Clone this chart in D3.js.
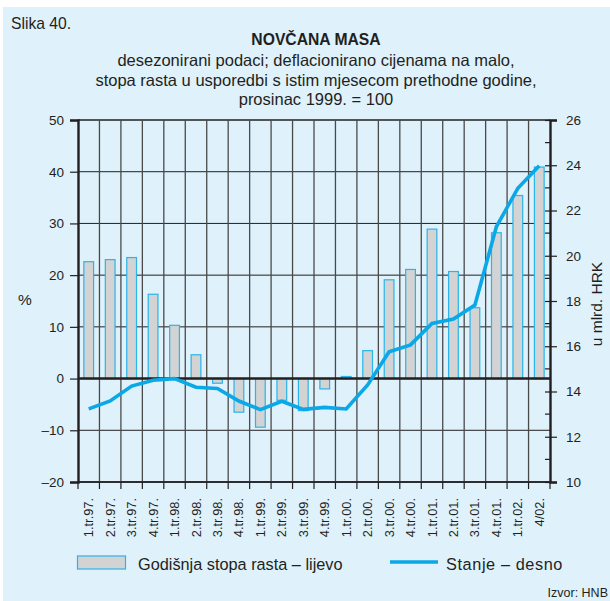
<!DOCTYPE html>
<html>
<head>
<meta charset="utf-8">
<script src="https://cdn.jsdelivr.net/npm/d3@7"></script>
<style>
  html, body { margin: 0; padding: 0; background: #ffffff; }
  svg { display: block; font-family: "Liberation Sans", Arial, Helvetica, sans-serif; }
</style>
</head>
<body>
<svg id="chart" width="610" height="601"></svg>
<script>
// Quarterly money supply: annual growth rate (left, %) and stock (right, bn HRK)
const quarters = [
  "1.tr.97.", "2.tr.97.", "3.tr.97.", "4.tr.97.",
  "1.tr.98.", "2.tr.98.", "3.tr.98.", "4.tr.98.",
  "1.tr.99.", "2.tr.99.", "3.tr.99.", "4.tr.99.",
  "1.tr.00.", "2.tr.00.", "3.tr.00.", "4.tr.00.",
  "1.tr.01.", "2.tr.01.", "3.tr.01.", "4.tr.01.",
  "1.tr.02.", "4/02."
];
const growthRate = [
  22.6, 23.0, 23.4, 16.3,
  10.3, 4.6, -0.9, -6.5,
  -9.4, -4.2, -6.2, -2.0,
  0.4, 5.4, 19.1, 21.1,
  28.9, 20.7, 13.7, 28.2,
  35.4, 40.9
];
const stock = [
  13.23, 13.58, 14.24, 14.50,
  14.57, 14.19, 14.13, 13.58,
  13.20, 13.57, 13.21, 13.30,
  13.23, 14.29, 15.76, 16.06,
  17.01, 17.20, 17.82, 21.28,
  22.98, 23.98
];
const leftTicks = [-20, -10, 0, 10, 20, 30, 40, 50];
const rightTicks = [10, 12, 14, 16, 18, 20, 22, 24, 26];
const rightMinorTicks = [11, 13, 15, 17, 19, 21, 23, 25];

const svg = d3.select("#chart");
const W = 610, H = 601;
const plot = { left: 78, right: 550, top: 120, bottom: 482 };

const BG = "#dff1fb";
const INK = "#231f20";
const BLUE = "#0aa8e6";
const BAR_FILL = "#d3d3d3";
const BAR_STROKE = "#2ab4ea";

// panel background
svg.append("rect").attr("x", 3).attr("y", 7).attr("width", W - 3).attr("height", H - 7).attr("fill", BG);

const x = d3.scaleBand().domain(quarters)
  .range([plot.left, plot.right]).paddingInner(0.5).paddingOuter(0.25);
const yL = d3.scaleLinear().domain([-20, 50]).range([plot.bottom, plot.top]);
const yR = d3.scaleLinear().domain([10, 26]).range([plot.bottom, plot.top]);

const step = x.step();
const center = q => x(q) + x.bandwidth() / 2;
const boundaries = quarters.map(q => center(q) - step / 2).concat([plot.right]);

// titles
svg.append("text").attr("x", 11).attr("y", 29).attr("font-size", 15.7).attr("fill", INK).text("Slika 40.");
const cx = 316;
svg.append("text").attr("x", cx).attr("y", 45).attr("text-anchor", "middle")
  .attr("font-size", 15.7).attr("font-weight", "bold").attr("fill", INK).text("NOVČANA MASA");
const subLines = [
  "desezonirani podaci; deflacionirano cijenama na malo,",
  "stopa rasta u usporedbi s istim mjesecom prethodne godine,",
  "prosinac 1999. = 100"
];
svg.append("g").selectAll("text").data(subLines).join("text")
  .attr("x", cx).attr("y", (d, i) => 66 + i * 19.7).attr("text-anchor", "middle")
  .attr("font-size", 16.5).attr("fill", INK).text(d => d);

// grid: horizontal lines at left ticks
const grid = svg.append("g");
grid.selectAll("line.h").data(leftTicks).join("line")
  .attr("class", "h")
  .attr("x1", plot.left).attr("x2", plot.right)
  .attr("y1", d => yL(d)).attr("y2", d => yL(d))
  .attr("stroke", INK).attr("stroke-width", d => (d === 50 || d === -20) ? 1.6 : 1);
// grid: vertical lines between quarters
grid.selectAll("line.v").data(boundaries.slice(1, -1)).join("line")
  .attr("class", "v")
  .attr("x1", d => d).attr("x2", d => d)
  .attr("y1", plot.top).attr("y2", plot.bottom)
  .attr("stroke", "#4a4a4a").attr("stroke-width", 1.3);

// bars: growth rate
svg.append("g").selectAll("rect").data(growthRate).join("rect")
  .attr("x", (d, i) => x(quarters[i]) + 0.5)
  .attr("width", x.bandwidth() - 1)
  .attr("y", d => yL(Math.max(0, d)))
  .attr("height", d => Math.abs(yL(d) - yL(0)))
  .attr("fill", BAR_FILL).attr("stroke", BAR_STROKE).attr("stroke-width", 1.2);

// zero line
svg.append("line").attr("x1", plot.left).attr("x2", plot.right)
  .attr("y1", yL(0)).attr("y2", yL(0)).attr("stroke", INK).attr("stroke-width", 2.6);

// line: stock
const line = d3.line().x((d, i) => center(quarters[i])).y(d => yR(d));
svg.append("path").datum(stock).attr("d", line)
  .attr("fill", "none").attr("stroke", BLUE).attr("stroke-width", 3.6)
  .attr("stroke-linejoin", "miter");

// left axis
const fmt = d => d < 0 ? "–" + Math.abs(d) : String(d);
const gL = svg.append("g").attr("transform", `translate(${plot.left},0)`)
  .call(d3.axisLeft(yL).tickValues(leftTicks).tickSize(8).tickPadding(6).tickFormat(fmt));
gL.select(".domain").attr("stroke", INK).attr("stroke-width", 2.4);
gL.selectAll(".tick line").attr("stroke", INK).attr("stroke-width", 1.2);
gL.selectAll(".tick text").attr("font-size", 13.5).attr("fill", INK).attr("font-family", null);

// right axis (major ticks cross the axis, minor ticks inside)
const gR = svg.append("g").attr("transform", `translate(${plot.right},0)`)
  .call(d3.axisRight(yR).tickValues(rightTicks).tickSize(7).tickPadding(9).tickFormat(d3.format("d")));
gR.select(".domain").attr("stroke", INK).attr("stroke-width", 2.4);
gR.selectAll(".tick line").attr("x1", -5).attr("stroke", INK).attr("stroke-width", 1.2);
gR.selectAll(".tick text").attr("font-size", 13.5).attr("fill", INK).attr("font-family", null);
gR.selectAll("line.minor").data(rightMinorTicks).join("line").attr("class", "minor")
  .attr("x1", -5).attr("x2", 0).attr("y1", d => yR(d)).attr("y2", d => yR(d))
  .attr("stroke", INK).attr("stroke-width", 1.2);

// bottom axis: ticks at quarter boundaries, rotated labels
const gB = svg.append("g");
gB.append("line").attr("x1", plot.left).attr("x2", plot.right)
  .attr("y1", plot.bottom).attr("y2", plot.bottom).attr("stroke", INK).attr("stroke-width", 1.6);
gB.selectAll("line.t").data(boundaries).join("line").attr("class", "t")
  .attr("x1", d => d).attr("x2", d => d).attr("y1", plot.bottom).attr("y2", plot.bottom + 7)
  .attr("stroke", INK).attr("stroke-width", 1.2);
gB.selectAll("text").data(quarters).join("text")
  .attr("transform", d => `translate(${center(d) + 4.5},${plot.bottom + 16}) rotate(-90)`)
  .attr("text-anchor", "end").attr("font-size", 12.8).attr("fill", INK).text(d => d);

// axis titles
svg.append("text").attr("x", 25).attr("y", 305).attr("text-anchor", "middle")
  .attr("font-size", 15.5).attr("fill", INK).text("%");
svg.append("text").attr("transform", "translate(602,304) rotate(-90)").attr("text-anchor", "middle")
  .attr("font-size", 15.5).attr("fill", INK).text("u mlrd. HRK");

// legend
const lg = svg.append("g");
lg.append("rect").attr("x", 77.5).attr("y", 556).attr("width", 48).attr("height", 13)
  .attr("fill", BAR_FILL).attr("stroke", BAR_STROKE).attr("stroke-width", 1.2);
lg.append("text").attr("x", 138).attr("y", 570).attr("font-size", 16.3).attr("fill", INK)
  .text("Godišnja stopa rasta – lijevo");
lg.append("line").attr("x1", 390).attr("x2", 438).attr("y1", 562).attr("y2", 562)
  .attr("stroke", BLUE).attr("stroke-width", 3.6);
lg.append("text").attr("x", 446).attr("y", 570).attr("font-size", 16.3).attr("fill", INK)
  .attr("letter-spacing", 0.6).text("Stanje – desno");

// source
svg.append("text").attr("x", 608).attr("y", 597).attr("text-anchor", "end")
  .attr("font-size", 12.5).attr("fill", INK).text("Izvor: HNB");
</script>
</body>
</html>
